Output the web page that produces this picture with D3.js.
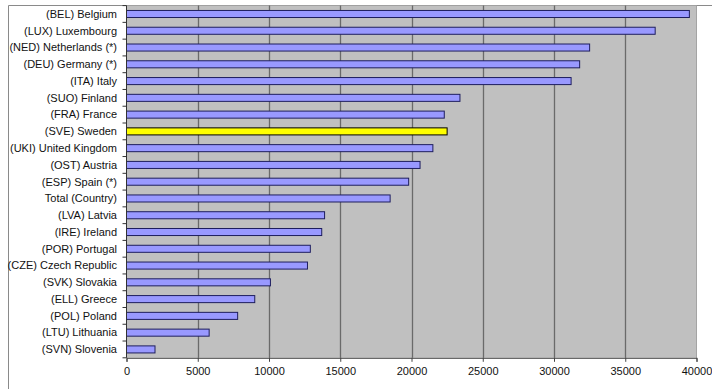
<!DOCTYPE html>
<html><head><meta charset="utf-8">
<script src="https://cdn.jsdelivr.net/npm/d3@7"></script>
<style>body{margin:0;background:#fff;}svg{display:block;}</style>
</head><body>
<script>
const categories = ["(BEL) Belgium","(LUX) Luxembourg","(NED) Netherlands (*)","(DEU) Germany (*)","(ITA) Italy","(SUO) Finland","(FRA) France","(SVE) Sweden","(UKI) United Kingdom","(OST) Austria","(ESP) Spain (*)","Total (Country)","(LVA) Latvia","(IRE) Ireland","(POR) Portugal","(CZE) Czech Republic","(SVK) Slovakia","(ELL) Greece","(POL) Poland","(LTU) Lithuania","(SVN) Slovenia"];
const values = [39500,37100,32500,31800,31200,23400,22300,22500,21500,20600,19800,18500,13900,13700,12900,12700,10100,9000,7800,5800,2000];
const highlighted = ["(SVE) Sweden"];
const xTicks = [0,5000,10000,15000,20000,25000,30000,35000,40000];

const W = 712, H = 389;
const svg = d3.select("body").append("svg").attr("width", W).attr("height", H);

const x = d3.scaleLinear().domain([0, 40000]).range([126.5, 696.5]);
const y = d3.scaleBand().domain(categories).range([5.6, 357.8]).paddingInner(0.58).paddingOuter(0.29);

// chart border
svg.append("path").attr("d", `M8.5,${H} V5.5 H${W}`).attr("fill","none").attr("stroke","#8a8a8a").attr("stroke-width",1);

// plot background
svg.append("rect").attr("x", x(0)).attr("y", 5.6).attr("width", x(40000)-x(0)).attr("height", 357.8-5.6)
  .attr("fill","#c0c0c0");
svg.append("line").attr("x1", x(40000)).attr("x2", x(40000)).attr("y1", 5.6).attr("y2", 357.8)
  .attr("stroke","#a4a4a4").attr("stroke-width",1);

// gridlines
svg.append("g").selectAll("line").data(xTicks.filter(v => v > 0 && v < 40000)).join("line")
  .attr("x1", d => Math.round(x(d)) + 0.5).attr("x2", d => Math.round(x(d)) + 0.5)
  .attr("y1", 5.6).attr("y2", 357.8).attr("stroke","#6a6a6a").attr("stroke-width",1.3);

// bars
svg.append("g").selectAll("rect").data(categories).join("rect")
  .attr("x", x(0))
  .attr("y", d => y(d))
  .attr("width", (d,i) => x(values[i]) - x(0))
  .attr("height", y.bandwidth())
  .attr("fill", d => highlighted.includes(d) ? "#ffff00" : "#9999ff")
  .attr("stroke", d => highlighted.includes(d) ? "#000000" : "#1e1e5e")
  .attr("stroke-width", 1);

// left axis line and ticks between categories
const step = y.step();
const bounds = categories.map(d => y(d) + y.bandwidth()/2 - step/2).concat([y(categories[categories.length-1]) + y.bandwidth()/2 + step/2]);
const lg = svg.append("g");
lg.append("line").attr("x1", x(0)).attr("x2", x(0)).attr("y1", 5.6).attr("y2", 357.8).attr("stroke","#333").attr("stroke-width",1);
lg.selectAll("line.t").data(bounds).join("line").attr("class","t")
  .attr("x1", x(0) - 4).attr("x2", x(0)).attr("y1", d => d).attr("y2", d => d)
  .attr("stroke","#333").attr("stroke-width",1);
lg.selectAll("text").data(categories).join("text")
  .attr("x", 117).attr("y", d => y(d) + y.bandwidth()/2).attr("dy","0.35em")
  .attr("text-anchor","end").attr("font-family","'Liberation Sans', Arial, sans-serif")
  .attr("font-size", 11).attr("fill","#111").text(d => d);

// bottom axis
const xa = svg.append("g").attr("transform", `translate(0,357.8)`)
  .call(d3.axisBottom(x).tickValues(xTicks).tickSize(4).tickPadding(5).tickFormat(d3.format("d")));
xa.select(".domain").attr("stroke","#444");
xa.selectAll(".tick line").attr("stroke","#444");
xa.selectAll("text").attr("font-family","'Liberation Sans', Arial, sans-serif").attr("font-size", 11).attr("fill","#111");
</script>
</body></html>
